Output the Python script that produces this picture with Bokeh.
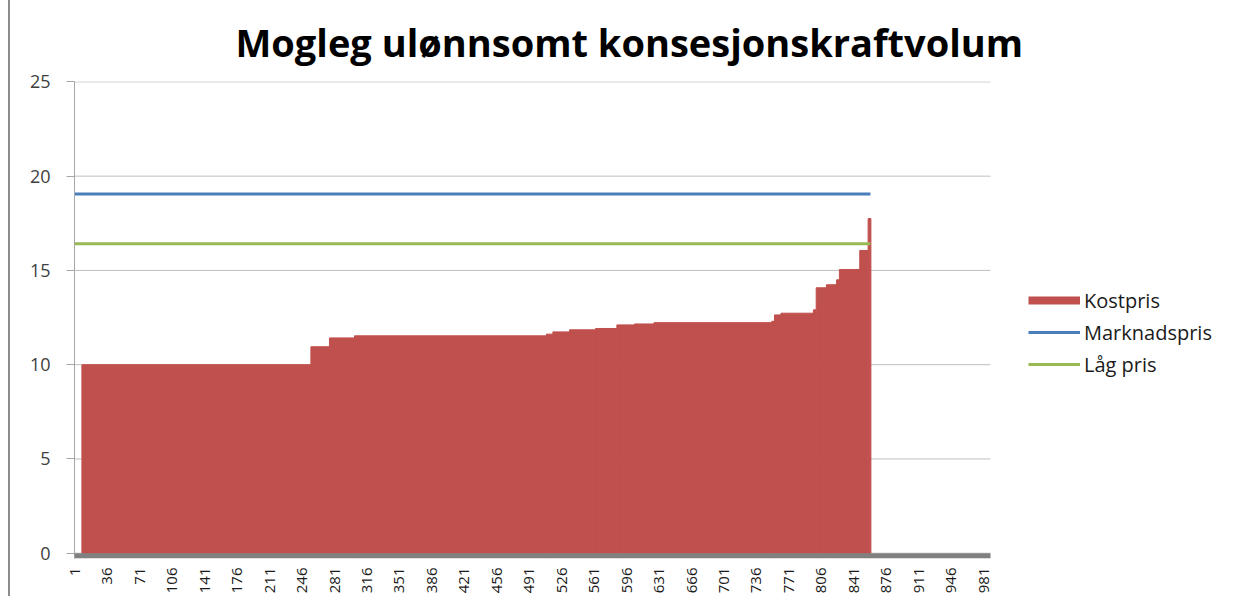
import math
import numpy as np
from bokeh.plotting import figure
from bokeh.models import (Range1d, FixedTicker, BoxAnnotation, Legend, LegendItem,
                          InlineStyleSheet, ColumnDataSource)
from bokeh.embed import file_html
from bokeh.resources import INLINE

# ---------------- data ----------------
title_text = "Mogleg ulønnsomt konsesjonskraftvolum"
n_categories = 988
x_tick_labels = ["1", "36", "71", "106", "141", "176", "211", "246", "281", "316",
                 "351", "386", "421", "456", "491", "526", "561", "596", "631", "666",
                 "701", "736", "771", "806", "841", "876", "911", "946", "981"]
y_ticks = [0, 5, 10, 15, 20, 25]

# Kostpris: sorted cost curve, stored as step levels and how many categories each level covers
kost_first_category = 9
kost_levels = [10.0, 10.95, 11.42, 11.53, 11.62, 11.74, 11.85, 11.92, 12.11, 12.16, 12.23,
               12.30, 12.64, 12.73, 12.91, 14.08, 14.24, 14.50, 15.05, 16.06, 17.75]
kost_run_lengths = [247, 20, 27, 207, 7, 18, 28, 23, 19, 21, 127,
                    3, 7, 35, 3, 11, 11, 3, 22, 9, 3]

marknadspris_value = 19.05
lag_pris_value = 16.42
line_categories = 859

series_names = ["Kostpris", "Marknadspris", "Låg pris"]
colors = {"Kostpris": "#C0504D", "Marknadspris": "#4A7EBB", "Låg pris": "#98B954"}

# ---------------- layout ----------------
W, H = 1247, 596
LEFT, RIGHT_PAD, TOP, BOTTOM = 74, 2, 81, 37
PLOT_AREA_PX = 916          # width of the visible category area (as in the reference)
frame_px = W - LEFT - RIGHT_PAD
x_end = 0.5 + n_categories * frame_px / PLOT_AREA_PX

# ---------------- derived columns ----------------
run_ends = kost_first_category - 1 + np.cumsum(kost_run_lengths)
run_starts = run_ends - np.array(kost_run_lengths) + 1
bars = ColumnDataSource(dict(left=run_starts - 0.5, right=run_ends + 0.5,
                             top=np.array(kost_levels), bottom=np.zeros(len(kost_levels))))

line_x = np.arange(1, line_categories + 1)
lines = ColumnDataSource(dict(x=line_x,
                              mp=np.full(line_categories, marknadspris_value),
                              lp=np.full(line_categories, lag_pris_value)))

grid = ColumnDataSource(dict(y=y_ticks, x0=[0.5] * len(y_ticks),
                             x1=[n_categories + 0.5] * len(y_ticks)))

FONT = "Open Sans"

p = figure(width=W, height=H, output_backend="svg", toolbar_location=None,
           x_range=Range1d(0.5, x_end), y_range=Range1d(-0.28, 25.02),
           min_border_left=LEFT, min_border_right=RIGHT_PAD, min_border_top=TOP,
           min_border_bottom=BOTTOM)
p.border_fill_color = None
p.background_fill_color = "white"
p.outline_line_color = None
p.stylesheets = [InlineStyleSheet(css=(
    ":host { background: linear-gradient(to right, #ffffff 0px, #ffffff 8px, "
    "#8c8c8c 8px, #8c8c8c 10px, #ffffff 10px, #ffffff 100%); }"))]

# horizontal gridlines limited to the category area
p.segment(x0="x0", x1="x1", y0="y", y1="y", source=grid, line_color="#BFBFBF",
          line_width=1, level="underlay")

r_bar = p.quad(left="left", right="right", top="top", bottom="bottom", source=bars,
               fill_color=colors["Kostpris"], line_color=colors["Kostpris"], line_width=1)
r_mp = p.line(x="x", y="mp", source=lines, line_color=colors["Marknadspris"], line_width=3)
r_lp = p.line(x="x", y="lp", source=lines, line_color=colors["Låg pris"], line_width=3)
# legend swatch for the bars (thin box like the reference)
r_swatch = p.line(x=[np.nan], y=[np.nan], line_color=colors["Kostpris"], line_width=8)

# gray floor band below zero
p.add_layout(BoxAnnotation(top=0, left=0.5, right=n_categories + 0.5,
                           fill_color="#808080", fill_alpha=1.0, line_color=None))

# axes
p.xaxis.ticker = FixedTicker(ticks=[int(s) for s in x_tick_labels])
p.xaxis.major_label_overrides = {int(s): s for s in x_tick_labels}
p.xaxis.major_label_orientation = math.pi / 2
p.xaxis.axis_line_color = None
p.xaxis.major_tick_line_color = None
p.xaxis.minor_tick_line_color = None
p.xaxis.major_label_standoff = 3
p.xaxis.major_label_text_font = FONT
p.xaxis.major_label_text_font_size = "15px"
p.xaxis.major_label_text_color = "#1a1a1a"

p.yaxis.ticker = FixedTicker(ticks=y_ticks)
p.yaxis.axis_line_color = "#A6A6A6"
p.yaxis.major_tick_line_color = "#A6A6A6"
p.yaxis.major_tick_out = 8
p.yaxis.major_tick_in = 0
p.yaxis.minor_tick_line_color = None
p.yaxis.major_label_standoff = 16
p.yaxis.major_label_text_font = FONT
p.yaxis.major_label_text_font_size = "18px"
p.yaxis.major_label_text_color = "#404040"

p.xgrid.visible = False
p.ygrid.visible = False

# title
p.title.text = title_text
p.title.align = "left"
p.title.offset = 161
p.title.standoff = 27
p.title.text_font = FONT
p.title.text_font_style = "bold"
p.title.text_font_size = "38px"
p.title.text_color = "#000000"

legend = Legend(items=[LegendItem(label=series_names[0], renderers=[r_swatch]),
                       LegendItem(label=series_names[1], renderers=[r_mp]),
                       LegendItem(label=series_names[2], renderers=[r_lp])],
                location=(954, 178), orientation="vertical",
                glyph_width=52, glyph_height=32, label_height=32, spacing=0,
                padding=0, margin=0, label_standoff=4,
                border_line_color=None, background_fill_alpha=0,
                label_text_font=FONT, label_text_font_size="20px", label_text_color="#1a1a1a")
p.add_layout(legend)

open("out.html", "w").write(file_html(p, INLINE))
